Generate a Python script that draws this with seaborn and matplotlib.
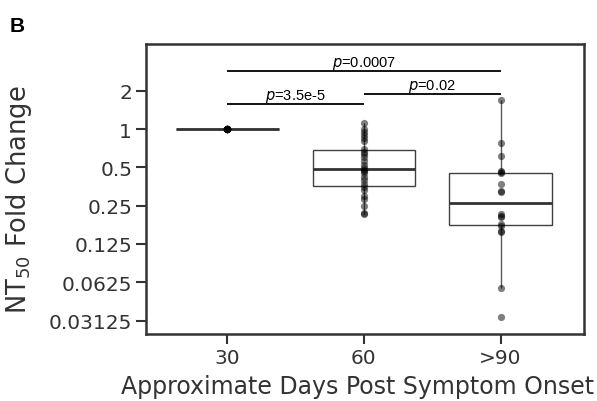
import numpy as np
import pandas as pd
import seaborn as sns
import matplotlib
matplotlib.use("Agg")
import matplotlib.pyplot as plt

# ---- data ----
categories = ["30", "60", ">90"]
vals_30 = [1.0] * 20
vals_60 = [1.11, 1.0, 0.95, 0.9, 0.85, 0.8, 0.70, 0.66, 0.64, 0.6, 0.56, 0.52,
           0.49, 0.48, 0.47, 0.45, 0.42, 0.40, 0.37, 0.35, 0.33, 0.30, 0.28,
           0.25, 0.22, 0.215]
vals_90 = [1.69, 0.776, 0.61, 0.47, 0.457, 0.45, 0.372, 0.328, 0.318, 0.215,
           0.209, 0.203, 0.179, 0.174, 0.159, 0.154, 0.0563, 0.0335]
ytick_vals = [2, 1, 0.5, 0.25, 0.125, 0.0625, 0.03125]
ytick_labels = ["2", "1", "0.5", "0.25", "0.125", "0.0625", "0.03125"]
# comparisons: (group a, group b, bracket height, p text)
comparisons = [(0, 2, 2.87, "0.0007"), (0, 1, 1.57, "3.5e-5"), (1, 2, 1.87, "0.02")]

df = pd.DataFrame({
    "group": [categories[0]] * len(vals_30) + [categories[1]] * len(vals_60) + [categories[2]] * len(vals_90),
    "value": vals_30 + vals_60 + vals_90,
})

sns.set_theme(style="ticks")
plt.rcParams["font.family"] = ["DejaVu Sans"]

fig = plt.figure(figsize=(5.97, 4.02), dpi=100)
ax = fig.add_axes([0.2446, 0.1667, 0.7334, 0.7213])
ax.set_yscale("log", base=2)

sns.boxplot(data=df, x="group", y="value", order=categories, ax=ax,
            color="white", linecolor=".25", linewidth=1.0, width=0.75,
            showcaps=False, showfliers=False,
            medianprops={"color": ".2", "linewidth": 2.0},
            whiskerprops={"color": ".35", "linewidth": 1.0})
sns.stripplot(data=df, x="group", y="value", order=categories, ax=ax,
              jitter=False, color="black", alpha=0.5, size=5.2, linewidth=0)

ax.set_xlim(-0.595, 2.61)
ax.set_ylim(2 ** -5.35, 2 ** 2.22)
ax.set_yticks(ytick_vals)
ax.set_yticklabels(ytick_labels)
ax.yaxis.set_minor_locator(matplotlib.ticker.NullLocator())

for side in ["left", "right", "top", "bottom"]:
    ax.spines[side].set_visible(True)
    ax.spines[side].set_linewidth(1.8)
    ax.spines[side].set_color(".2")
ax.tick_params(axis="both", which="major", length=7, width=1.5, color=".2",
               labelsize=14.5, labelcolor=".2", pad=3)

ax.set_xlabel("Approximate Days Post Symptom Onset", fontsize=17, color=".2")
ax.set_ylabel("NT$_{50}$ Fold Change", fontsize=18.5, color=".2")
ax.xaxis.set_label_coords(0.482, -0.138)
ax.yaxis.set_label_coords(-0.256, 0.467)

for a, b, h, p in comparisons:
    ax.plot([a, b], [h, h], color="black", linewidth=1.3, solid_capstyle="butt")
    ax.text((a + b) / 2, h * 1.005, "$\\it{p}$=" + p, ha="center", va="bottom",
            fontsize=10.5, family="Liberation Sans", color="black")

fig.text(0.0168, 0.921, "B", fontsize=15, fontweight="bold", family="Liberation Sans",
         color="black", va="baseline")

fig.savefig("out.png", dpi=100)
